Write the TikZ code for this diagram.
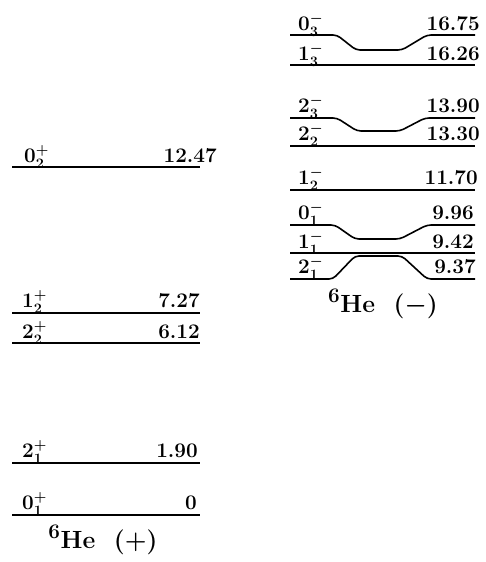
\documentclass[tikz,border=0pt]{standalone}
\usetikzlibrary{positioning}
\begin{document}
\begin{tikzpicture}[x=1pt, y=-1pt,
    lvl/.style={line width=1.6pt, rounded corners=4pt},
    spin/.style={font=\huge\bfseries\boldmath, anchor=base west, inner sep=0pt},
    ener/.style={font=\huge\bfseries, anchor=base east, inner sep=0pt},
    nucl/.style={font=\Huge\bfseries\boldmath, anchor=base, inner sep=0pt},
  ]
    \useasboundingbox (0,0) rectangle (486,562);

    % positive parity
    \draw[lvl] (12,167) -- (200,167);
    \node[spin] (p02) at (24,162) {$0^+_2$};
    \node[ener] (ep02) at (217,162) {12.47};
    \draw[lvl] (12,313) -- (200,313);
    \node[spin] (p12) at (22,307) {$1^+_2$};
    \node[ener] (ep12) at (200,307) {7.27};
    \draw[lvl] (12,343) -- (200,343);
    \node[spin] (p22) at (22,338) {$2^+_2$};
    \node[ener] (ep22) at (200,338) {6.12};
    \draw[lvl] (12,463) -- (200,463);
    \node[spin] (p21) at (22,457) {$2^+_1$};
    \node[ener] (ep21) at (198,457) {1.90};
    \draw[lvl] (12,515) -- (200,515);
    \node[spin] (p01) at (22,509) {$0^+_1$};
    \node[ener] (ep01) at (197,509) {0};
    \node[nucl] (hep) at (103,548) {$^{6}$He\ \ (+)};

    % negative parity
    \draw[lvl] (290,35) -- (337,35) -- (356,50) -- (402,50) -- (427,35) -- (475,35);
    \node[spin] (m03) at (298,30) {$0^-_3$};
    \node[ener] (em03) at (480,30) {16.75};
    \draw[lvl] (290,65) -- (475,65);
    \node[spin] (m13) at (298,60) {$1^-_3$};
    \node[ener] (em13) at (480,60) {16.26};
    \draw[lvl] (290,118) -- (337,118) -- (357,131) -- (400,131) -- (425,118) -- (475,118);
    \node[spin] (m23) at (298,112) {$2^-_3$};
    \node[ener] (em23) at (480,112) {13.90};
    \draw[lvl] (290,146) -- (475,146);
    \node[spin] (m22) at (298,140) {$2^-_2$};
    \node[ener] (em22) at (480,140) {13.30};
    \draw[lvl] (290,190) -- (475,190);
    \node[spin] (m12) at (298,184) {$1^-_2$};
    \node[ener] (em12) at (478,184) {11.70};
    \draw[lvl] (290,225) -- (335,225) -- (355,239) -- (400,239) -- (427,225) -- (475,225);
    \node[spin] (m01) at (298,219) {$0^-_1$};
    \node[ener] (em01) at (474,219) {9.96};
    \draw[lvl] (290,253) -- (475,253);
    \node[spin] (m11) at (298,248) {$1^-_1$};
    \node[ener] (em11) at (474,248) {9.42};
    \draw[lvl] (290,279) -- (333,279) -- (355,256) -- (402,256) -- (427,279) -- (475,279);
    \node[spin] (m21) at (298,273) {$2^-_1$};
    \node[ener] (em21) at (476,273) {9.37};
    \node[nucl] (hem) at (383,312) {$^{6}$He\ \ ($-$)};
  \end{tikzpicture}
\end{document}
